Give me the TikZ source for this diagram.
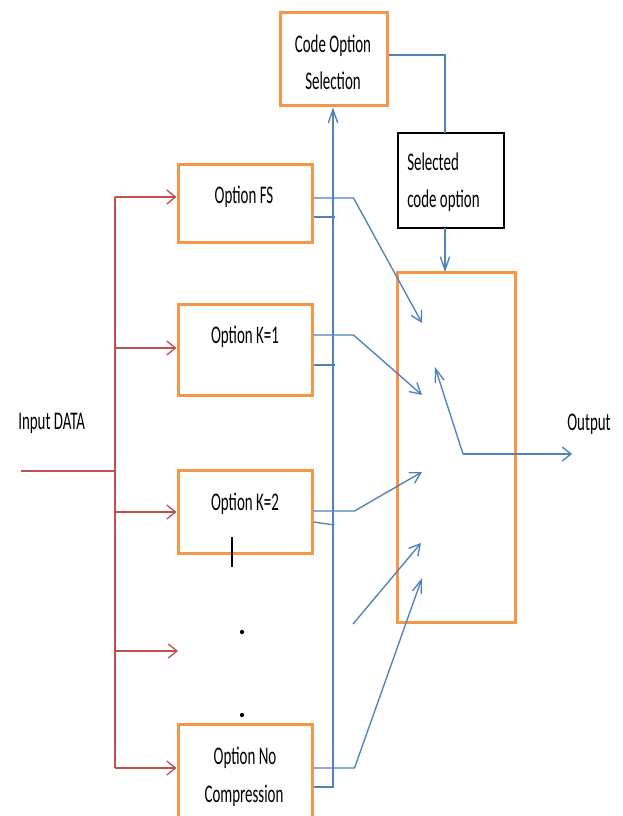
\documentclass[tikz,border=0pt]{standalone}
\usepackage{fontspec}
\setmainfont{Carlito}
\usepackage{graphicx}
\usetikzlibrary{arrows.meta,calc}
\definecolor{obox}{HTML}{F79646}
\definecolor{bline}{HTML}{4F81BD}
\definecolor{rline}{HTML}{C0504D}
\newcommand\stxt[1]{\scalebox{1}[1.7]{#1}}
\begin{document}
\begin{tikzpicture}[x=0.75pt,y=-0.75pt,
  obx/.style={draw=obox,line width=2.25pt,inner sep=0pt},
  kbx/.style={draw=black,line width=1.4pt,inner sep=0pt},
  txt/.style={inner sep=0pt,font=\fontsize{11.2}{13}\selectfont},
  bl/.style={draw=bline,line width=1pt},
  rl/.style={draw=rline,line width=1pt},
  varr/.style={-{Straight Barb[length=10pt,width=7pt]}},
  darr/.style={-{Straight Barb[length=8pt,width=9pt]}},
  harr/.style={-{Straight Barb[length=6.5pt,width=10.5pt]}}]
\useasboundingbox (0,0) rectangle (622,816);
\fill[white] (0,0) rectangle (622,816);

% boxes
\node[obx,minimum width=80.25pt,minimum height=69.75pt] (cos) at (333.5,59.5) {};
\node[kbx,minimum width=79.5pt,minimum height=71.25pt] (sel) at (451,180.5) {};
\node[obx,minimum width=100.5pt,minimum height=58.5pt] (fs) at (245,204) {};
\node[obx,minimum width=100.5pt,minimum height=68.25pt] (k1) at (245,349.5) {};
\node[obx,minimum width=100.5pt,minimum height=62.25pt] (k2) at (245,511.5) {};
\node[obx,minimum width=100.5pt,minimum height=72pt] (nc) at (245,772) {};
\node[obx,minimum width=88.5pt,minimum height=261.75pt] (sw) at (456,447.5) {};

% texts
\node[txt,anchor=base] (cost1) at (333,53) {\stxt{Code Option}};
\node[txt,anchor=base] (cost2) at (333,90) {\stxt{Selection}};
\node[txt,anchor=base west] (selt1) at (407,171) {\stxt{Selected}};
\node[txt,anchor=base west] (selt2) at (407,208) {\stxt{code option}};
\node[txt,anchor=base] (fst) at (244,204) {\stxt{Option FS}};
\node[txt,anchor=base] (k1t) at (245,343) {\stxt{Option K=1}};
\node[txt,anchor=base] (k2t) at (245,510) {\stxt{Option K=2}};
\node[txt,anchor=base] (nct1) at (245,764) {\stxt{Option No}};
\node[txt,anchor=base] (nct2) at (244,802) {\stxt{Compression}};
\node[txt,anchor=base west] (inpt) at (18,429) {\stxt{Input DATA}};
\node[txt,anchor=base west] (outt) at (567,430) {\stxt{Output}};

% red input tree
\coordinate (inp) at (21,471);
\coordinate (bus) at (115,471);
\coordinate (rtop) at (115,197);
\coordinate (r2) at (115,348);
\coordinate (r3) at (115,512);
\coordinate (r4) at (115,651);
\coordinate (e4) at (178,651);
\coordinate (rbot) at (115,768);
\draw[rl] (inp) -- (bus);
\draw[rl] (rtop) -- (rbot);
\draw[rl,harr] (rtop) -- (rtop -| fs.west);
\draw[rl,harr] (r2) -- (r2 -| k1.west);
\draw[rl,harr] (r3) -- (r3 -| k2.west);
\draw[rl,harr] (r4) -- (e4);
\draw[rl,harr] (rbot) -- (rbot -| nc.west);

% blue feedback bus to code option selection
\coordinate (busb) at (333,787);
\draw[bl,varr] ($(nc.east)+(0,15)$) -- (busb) -- (busb |- cos.south);
\draw[bl] ($(fs.east)+(0,13)$) -- ++(21,0);
\draw[bl] ($(k1.east)+(0,15.5)$) -- ++(21,0);
\draw[bl] ($(k2.east)+(0,10.5)$) -- ($(k2.east)+(21,13.5)$);

% blue data lines into switch
\coordinate (t1) at (422,323);
\coordinate (t2) at (422,395);
\coordinate (t3) at (422,472);
\coordinate (t4) at (421,543);
\coordinate (t5) at (422,578);
\coordinate (f0) at (353,624);
\draw[bl,darr] ($(fs.east)+(0,-6)$) -- ++(40,0) -- (t1);
\draw[bl,darr] ($(k1.east)+(0,-14.5)$) -- ++(40,0) -- (t2);
\draw[bl,darr] ($(k2.east)+(0,-0.5)$) -- ++(41,0) -- (t3);
\draw[bl,darr] (f0) -- (t4);
\draw[bl,varr] ($(nc.east)+(0,-4)$) -- ++(41,0) -- (t5);

% switch arm and output
\coordinate (pv) at (463,454);
\coordinate (tp) at (435,367);
\coordinate (out) at (572,454);
\draw[bl,varr] (pv) -- (tp);
\draw[bl,harr] (pv) -- (out);

% selection path
\coordinate (sela) at (445,55);
\coordinate (selt) at (445,133);
\coordinate (selb) at (445,228);
\coordinate (swt) at (445,272);
\draw[bl] ($(cos.east)+(0,-4.5)$) -- (sela) -- (selt);
\draw[bl,varr] (selb) -- (swt);

% ellipsis marks
\draw[line width=1.5pt] (232,537) -- (232,567);
\fill (242,632) circle (1.6pt);
\fill (242,715) circle (1.6pt);
\end{tikzpicture}
\end{document}
